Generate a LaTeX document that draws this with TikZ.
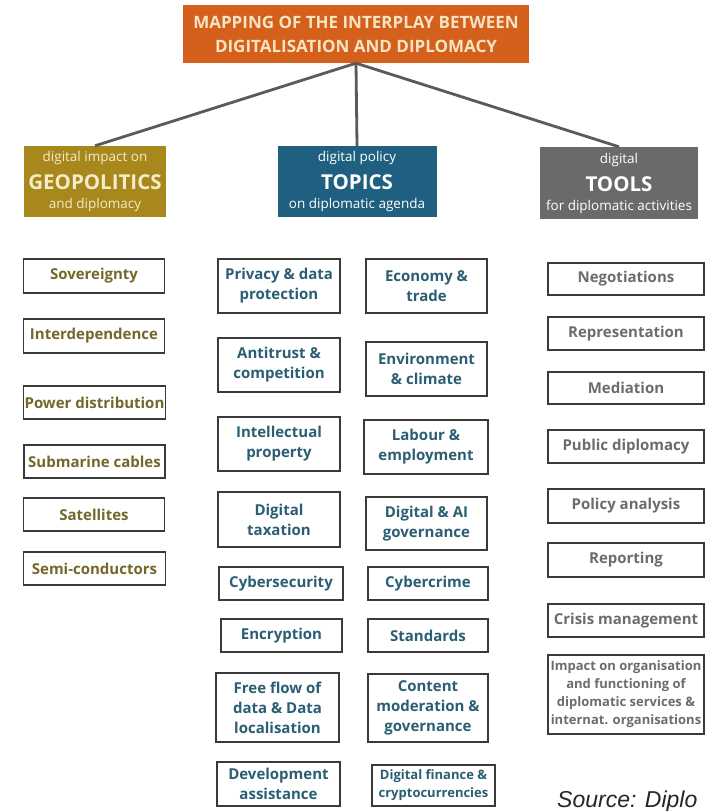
\documentclass[tikz,border=0pt]{standalone}
\usepackage{fontspec}
\setmainfont{Open Sans}
\setsansfont{Liberation Sans}
\definecolor{titleorange}{HTML}{D4601C}
\definecolor{titletxt}{HTML}{F8E4C2}
\definecolor{geofill}{HTML}{A8881D}
\definecolor{geohtxt}{HTML}{F4EBC8}
\definecolor{topfill}{HTML}{1F5F80}
\definecolor{toolfill}{HTML}{6A6A6A}
\definecolor{geotxt}{HTML}{74672A}
\definecolor{toptxt}{HTML}{2B5E73}
\definecolor{tooltxt}{HTML}{6C6C6C}
\definecolor{bordergray}{HTML}{3A3A3A}
\definecolor{linegray}{HTML}{5A5A5A}
\begin{document}
\begin{tikzpicture}[x=1pt,y=-1pt,
  box/.style={draw=bordergray, line width=1.4pt, fill=white, align=center, inner sep=1pt,
    font=\fontsize{15}{20}\selectfont\bfseries},
  geobox/.style={box, text=geotxt},
  topbox/.style={box, text=toptxt},
  toolbox/.style={box, text=tooltxt},
  small/.style={font=\fontsize{13}{18}\selectfont\bfseries},
  head/.style={align=center, inner sep=0pt, text=white, font=\fontsize{13.5}{19}\selectfont},
  conn/.style={draw=linegray, line width=2.8pt}
]
\useasboundingbox (0,0) rectangle (706,811);
\fill[white] (0,0) rectangle (706,811);

% title
\node[fill=titleorange, text=titletxt, align=center, minimum width=346pt, minimum height=58pt,
  inner sep=0pt, font=\fontsize{17}{24}\selectfont\bfseries] (title) at (356,34)
  {MAPPING OF THE INTERPLAY BETWEEN\\DIGITALISATION AND DIPLOMACY};

% headers
\node[head, fill=geofill, text=geohtxt, minimum width=142pt, minimum height=71pt] (geo) at (95,181.5)
  {digital impact on\\[9pt]{\fontsize{20.5}{24}\selectfont\bfseries GEOPOLITICS}\\and diplomacy};
\node[head, fill=topfill, minimum width=159pt, minimum height=71pt] (topics) at (357,181.5)
  {digital policy\\[9pt]{\fontsize{20.5}{24}\selectfont\bfseries TOPICS}\\on diplomatic agenda};
\node[head, fill=toolfill, minimum width=158pt, minimum height=72pt] (tools) at (619,183)
  {digital\\[9pt]{\fontsize{20.5}{24}\selectfont\bfseries TOOLS}\\for diplomatic activities};

\draw[conn] (title.south) -- (geo.north);
\draw[conn] (title.south) -- (topics.north);
\draw[conn] (title.south) -- (tools.north);

% geopolitics column
\node[geobox, minimum width=141pt, minimum height=34pt] (sov) at (94,276) {Sovereignty};
\node[geobox, minimum width=141pt, minimum height=34pt] (inter) at (94,336) {Interdependence};
\node[geobox, minimum width=142pt, minimum height=33pt] (power) at (94.5,402.5) {Power distribution};
\node[geobox, minimum width=141pt, minimum height=33pt] (sub) at (94.5,461.5) {Submarine cables};
\node[geobox, minimum width=141pt, minimum height=33pt] (sat) at (94,514.5) {Satellites};
\node[geobox, minimum width=142pt, minimum height=33pt] (semi) at (94.5,568.5) {Semi-conductors};

% topics, left column
\node[topbox, minimum width=122pt, minimum height=54pt] (priv) at (279,286) {Privacy \& data\\protection};
\node[topbox, minimum width=122pt, minimum height=54pt] (anti) at (279,365) {Antitrust \&\\competition};
\node[topbox, minimum width=122pt, minimum height=54pt] (ip) at (279,444) {Intellectual\\property};
\node[topbox, minimum width=122pt, minimum height=55pt] (tax) at (279,519.5) {Digital\\taxation};
\node[topbox, minimum width=124pt, minimum height=33pt] (cysec) at (281,583.5) {Cybersecurity};
\node[topbox, minimum width=121pt, minimum height=33pt] (encr) at (281.5,635.5) {Encryption};
\node[topbox, minimum width=123pt, minimum height=69pt] (flow) at (277.5,707.5) {Free flow of\\data \& Data\\localisation};
\node[topbox, minimum width=123pt, minimum height=44pt] (dev) at (278.5,784) {Development\\assistance};

% topics, right column
\node[topbox, minimum width=121pt, minimum height=54pt] (econ) at (426.5,286) {Economy \&\\trade};
\node[topbox, minimum width=121pt, minimum height=54pt] (env) at (426.5,369) {Environment\\\& climate};
\node[topbox, minimum width=124pt, minimum height=54pt] (lab) at (426,447) {Labour \&\\employment};
\node[topbox, minimum width=121pt, minimum height=53pt] (dai) at (426.5,523.5) {Digital \& AI\\governance};
\node[topbox, minimum width=120pt, minimum height=33pt] (cycr) at (428,583.5) {Cybercrime};
\node[topbox, minimum width=120pt, minimum height=33pt] (std) at (428,635.5) {Standards};
\node[topbox, minimum width=120pt, minimum height=68pt] (cont) at (428,708) {Content\\moderation \&\\governance};
\node[topbox, small, minimum width=123pt, minimum height=41pt] (fin) at (433.5,785.5) {Digital finance \&\\cryptocurrencies};

% tools column
\node[toolbox, minimum width=156pt, minimum height=32pt] (neg) at (626,279) {Negotiations};
\node[toolbox, minimum width=156pt, minimum height=33pt] (rep) at (626,333.5) {Representation};
\node[toolbox, minimum width=156pt, minimum height=32pt] (med) at (626,388) {Mediation};
\node[toolbox, minimum width=156pt, minimum height=33pt] (pub) at (626,446.5) {Public diplomacy};
\node[toolbox, minimum width=156pt, minimum height=34pt] (pol) at (626,506) {Policy analysis};
\node[toolbox, minimum width=156pt, minimum height=34pt] (rpt) at (626,560) {Reporting};
\node[toolbox, minimum width=156pt, minimum height=33pt] (cri) at (626,620.5) {Crisis management};
\node[toolbox, small, minimum width=156pt, minimum height=79pt] (imp) at (626,694.5)
  {Impact on organisation\\and functioning of\\diplomatic services \&\\internat. organisations};

% source
\node[anchor=base west, inner sep=0pt, text=black!85, font=\sffamily\itshape\fontsize{23}{23}\selectfont] (src) at (557,807) {Source: Diplo};
\end{tikzpicture}
\end{document}
